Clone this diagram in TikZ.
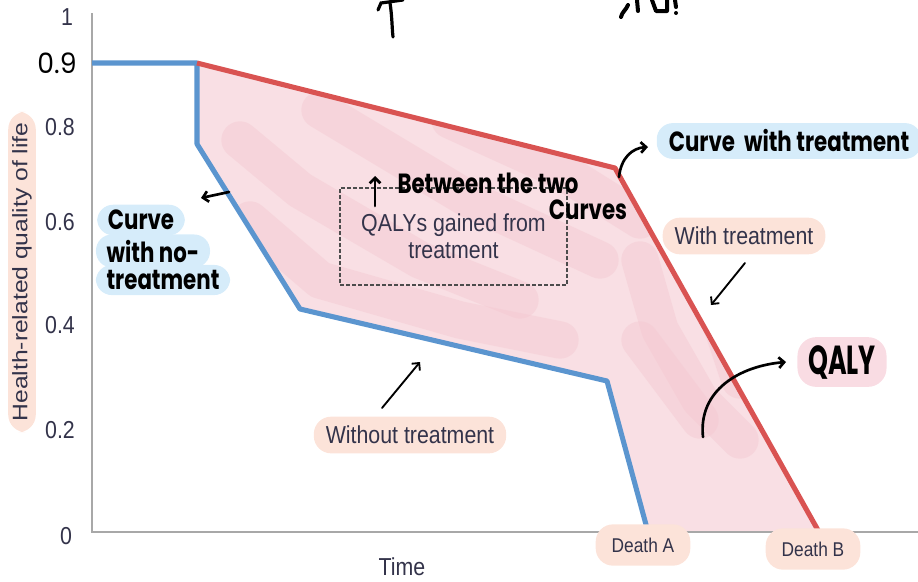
\documentclass[tikz,border=0pt]{standalone}
\usepackage{fontspec}
\usepackage{graphicx}
\setmainfont{Liberation Sans}
\newfontfamily\hand{Poppins}
\usetikzlibrary{arrows.meta}
\definecolor{fillpink}{HTML}{F9DFE4}
\definecolor{blotch}{HTML}{F4C8D1}
\definecolor{redline}{HTML}{D95352}
\definecolor{blueline}{HTML}{5B95CF}
\definecolor{axisgray}{HTML}{A8A8A8}
\definecolor{peach}{HTML}{FCE3D9}
\definecolor{skyhl}{HTML}{D6ECFA}
\definecolor{pinkhl}{HTML}{F9DCE3}
\definecolor{txt}{HTML}{33334A}
\newcommand{\hw}[2][1.3]{\scalebox{1}[#1]{\hand\bfseries #2}}
\newcommand{\tall}[1]{\scalebox{1}[1.15]{#1}}
\begin{document}
\begin{tikzpicture}[x=0.75pt,y=-0.75pt,
  axis/.style={draw=axisgray,line width=1.5pt},
  curveblue/.style={draw=blueline,line width=3.8pt,line join=round},
  curvered/.style={draw=redline,line width=3.8pt,line join=round},
  tick/.style={text=txt,font=\fontsize{16}{18}\selectfont,inner sep=1pt},
  lbl/.style={text=txt,font=\fontsize{16}{18}\selectfont},
  hlpeach/.style={fill=peach,rounded corners=13pt,inner xsep=9pt,inner ysep=7pt},
  hlsky/.style={fill=skyhl,rounded corners=12pt,inner xsep=6pt,inner ysep=4pt},
  hlpink/.style={fill=pinkhl,rounded corners=14pt,inner xsep=8pt,inner ysep=6pt},
  handtxt/.style={text=black,font=\fontsize{16}{18}\selectfont,inner sep=1pt},
  harrow/.style={draw=black,line width=2pt,line cap=round,-{Straight Barb[length=4pt,width=8pt]}},
  boxdash/.style={draw=black!70,line width=0.9pt,dash pattern=on 3pt off 1.5pt},
  blot/.style={draw=blotch,line width=28pt,line cap=round,line join=round,opacity=0.45}
]
\useasboundingbox (0,0) rectangle (918,582);

% key points
\coordinate (s) at (197,63);
\coordinate (r1) at (615,168);
\coordinate (r2) at (819,532);
\coordinate (b0) at (92,63);
\coordinate (b1) at (197,144);
\coordinate (b2) at (300,309);
\coordinate (b3) at (607,381);
\coordinate (b4) at (648,532);

% shaded area between the curves
\fill[fillpink] (s) -- (r1) -- (r2) -- (b4) -- (b3) -- (b2) -- (b1) -- cycle;
\begin{scope}
  \clip (s) -- (r1) -- (r2) -- (b4) -- (b3) -- (b2) -- (b1) -- cycle;
  \draw[blot] (240,140) -- (300,190) -- (420,260) -- (520,300);
  \draw[blot] (320,110) -- (470,200) -- (600,260);
  \draw[blot] (450,120) -- (560,170) -- (640,220);
  \draw[blot] (250,220) -- (320,280) -- (460,320) -- (560,340);
  \draw[blot] (640,260) -- (660,330) -- (700,400) -- (740,440);
  \draw[blot] (640,340) -- (700,420);
  \draw[blot] (720,320) -- (740,380);
\end{scope}

% axes
\draw[axis] (92,13) -- (92,532) -- (918,532);

% curves
\draw[curveblue] (b0) -- (s) -- (b1) -- (b2) -- (b3) -- (b4);
\draw[curvered] (s) -- (r1) -- (r2);

% tick labels
\node[tick] (t1) at (67,17) {\tall{1}};
\node[handtxt,font=\fontsize{20}{22}\selectfont] (t09) at (57,63) {\scalebox{1}[1.05]{\hand 0.9}};
\node[tick] (t08) at (60,127) {\tall{0.8}};
\node[tick] (t06) at (60,222) {\tall{0.6}};
\node[tick] (t04) at (60,325) {\tall{0.4}};
\node[tick] (t02) at (60,430) {\tall{0.2}};
\node[tick] (t0) at (66,536) {\tall{0}};

% axis titles
\node[lbl,hlpeach,rotate=90,font=\fontsize{18.5}{20}\selectfont,inner xsep=8pt,inner ysep=3pt] (ylab) at (22,272) {\scalebox{1}[0.85]{Health-related quality of life}};
\node[lbl] (xlab) at (402,567) {\tall{Time}};

% dashed box
\node[boxdash,minimum width=227pt*0.75,minimum height=97pt*0.75,align=center,
      text=txt,font=\fontsize{16}{20}\selectfont,inner sep=0pt] (qbox) at (453.5,236.5)
      {\tall{QALYs gained from}\\\tall{treatment}};

% printed labels
\node[lbl,hlpeach] (withT) at (744,236) {\tall{With treatment}};
\node[lbl,hlpeach] (withoutT) at (410,435) {\tall{Without treatment}};
\node[text=txt,font=\fontsize{13}{15}\selectfont,hlpeach,inner ysep=10pt,inner xsep=12pt] (deathA) at (643,545) {\tall{Death A}};
\node[text=txt,font=\fontsize{13}{15}\selectfont,hlpeach,inner ysep=10pt,inner xsep=12pt] (deathB) at (813,549) {\tall{Death B}};

% handwritten notes
\node[handtxt,hlsky,inner xsep=9pt,inner ysep=5pt] (cwt) at (789,141) {\hw{Curve~ with treatment}};
\node[handtxt,hlsky,inner xsep=8pt,inner ysep=4pt] (cwn1) at (141,220) {\hw{Curve}};
\node[handtxt,hlsky,inner xsep=8pt,inner ysep=4pt] (cwn2) at (153,251) {\hw{with no-}};
\node[handtxt,hlsky,inner xsep=8pt,inner ysep=4pt] (cwn3) at (163,280) {\hw{treatment}};
\node[handtxt] (btw) at (488,183) {\hw{Between the two}};
\node[handtxt] (curves) at (588,210) {\hw{Curves}};
\node[handtxt,hlpink,font=\fontsize{19}{21}\selectfont] (qaly) at (842,362) {\hw[1.6]{QALY}};

% handwritten arrows
\coordinate (a1s) at (229,192);
\coordinate (a1e) at (201,198);
\draw[harrow] (a1s) -- (a1e);
\coordinate (a2s) at (375,206);
\coordinate (a2e) at (375,176);
\draw[harrow] (a2s) -- (a2e);
\coordinate (a3s) at (619,177);
\coordinate (a3e) at (648,147);
\draw[harrow] (a3s) .. controls (621,158) and (632,148) .. (a3e);
\coordinate (a4s) at (745,263);
\coordinate (a4e) at (711,305);
\draw[harrow,line width=1.4pt] (a4s) -- (a4e);
\coordinate (a5s) at (382,408);
\coordinate (a5e) at (420,362);
\draw[harrow,line width=1.4pt] (a5s) -- (a5e);
\coordinate (a6s) at (703,437);
\coordinate (a6e) at (786,362);
\draw[harrow] (a6s) .. controls (698,390) and (740,366) .. (a6e);

% cut-off handwriting at the top edge
\draw[black,line width=2.4pt,line cap=round] (378,10) -- (381,3) -- (403,0);
\draw[black,line width=2.4pt,line cap=round] (390,3) .. controls (392,15) and (392,28) .. (393,37);
\draw[black,line width=3pt,line cap=round,line join=round] (628,5) .. controls (626,10) and (622,12) .. (621,17);
\draw[black,line width=3pt,line cap=round,line join=round] (637,0) -- (638,11);
\draw[black,line width=3pt,line cap=round,line join=round] (652,0) -- (656,11) -- (667,11) -- (667,0);
\draw[black,line width=3pt,line cap=round] (675,0) -- (676,7);
\fill[black] (676,13) circle (2);
\end{tikzpicture}
\end{document}
